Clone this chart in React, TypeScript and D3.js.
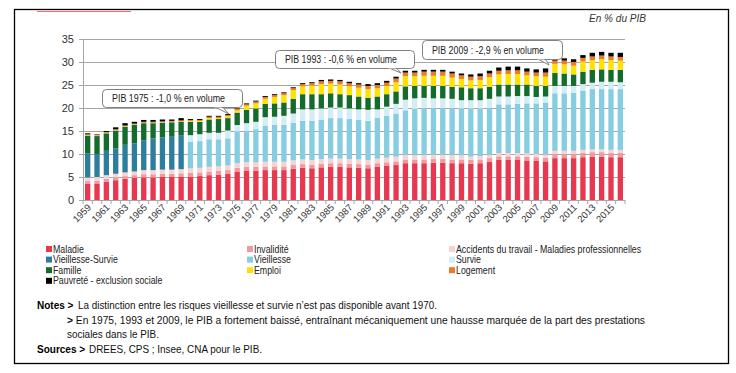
import React from "react";
import * as d3 from "d3";

const years: number[] = d3.range(1959, 2017);

const maladie = [3.5,3.6,4.0,4.3,4.6,4.8,4.9,4.9,5.0,5.0,5.1,
  5.1,5.2,5.4,5.5,5.7,6.2,6.4,6.4,6.5,6.5,
  6.5,6.8,7.0,6.9,7.1,7.2,7.2,7.1,7.0,6.9,
  7.2,7.4,7.6,8.0,8.0,8.0,8.1,8.1,8.0,8.0,
  7.9,8.0,8.3,8.7,8.7,8.7,8.6,8.5,8.4,9.1,
  9.1,9.1,9.3,9.4,9.4,9.3,9.3];
const invalidite = [0.6,0.6,0.6,0.6,0.6,0.6,0.7,0.7,0.7,0.7,0.7,
  0.8,0.8,0.8,0.8,0.8,0.8,0.8,0.8,0.8,0.8,
  0.8,0.8,0.8,0.8,0.8,0.8,0.8,0.8,0.8,0.8,
  0.8,0.8,0.8,0.8,0.8,0.8,0.8,0.8,0.8,0.8,
  0.8,0.8,0.8,0.8,0.8,0.8,0.8,0.8,0.8,1.0,
  1.0,1.0,1.0,1.0,1.0,1.0,1.0];
const accidents = [0.8,0.8,0.8,0.8,0.8,0.8,0.9,0.9,0.9,0.9,0.9,
  1.0,1.0,1.0,1.0,1.0,1.0,1.0,1.0,1.0,1.0,
  1.0,1.0,1.0,1.0,1.0,1.0,1.0,1.0,1.0,1.0,
  1.0,1.0,1.0,1.0,0.9,0.9,0.9,0.9,0.9,0.9,
  0.7,0.7,0.7,0.7,0.7,0.7,0.7,0.7,0.7,0.6,
  0.6,0.6,0.6,0.6,0.6,0.6,0.6];
const vieillesseSurvie = [5.2,5.0,5.3,5.5,6.0,6.1,6.5,6.9,7.0,7.3,7.4,
  0,0,0,0,0,0,0,0,0,0,
  0,0,0,0,0,0,0,0,0,0,
  0,0,0,0,0,0,0,0,0,0,
  0,0,0,0,0,0,0,0,0,0,
  0,0,0,0,0,0,0];
const vieillesse = [0,0,0,0,0,0,0,0,0,0,0,
  5.8,5.8,6.0,5.9,5.9,6.9,6.9,7.2,7.9,8.0,
  8.0,8.2,8.4,8.5,8.6,8.8,8.8,8.7,8.6,8.5,
  8.9,9.1,9.4,9.7,10.1,10.3,10.2,10.2,10.3,10.2,
  10.5,10.4,10.3,10.6,10.6,10.7,10.9,11.0,11.3,12.5,
  12.5,12.6,12.9,13.1,13.1,13.2,13.2];
const survie = [0,0,0,0,0,0,0,0,0,0,0,
  1.4,1.5,1.4,1.4,1.7,1.4,1.6,1.6,1.8,1.8,
  2.0,2.0,2.5,2.5,2.4,2.3,2.3,2.3,2.3,2.4,
  1.8,2.0,2.1,2.3,2.3,2.2,2.1,2.1,2.0,1.8,
  1.8,1.8,1.9,1.7,1.7,1.7,1.6,1.4,1.3,1.6,
  1.6,1.5,1.4,1.4,1.6,1.6,1.5];
const famille = [3.9,3.9,3.8,3.9,3.9,4.0,3.7,3.3,3.2,3.0,2.9,
  2.9,2.7,2.9,3.0,2.7,2.7,2.9,2.9,2.9,2.9,
  2.9,3.2,3.3,3.3,3.1,3.1,2.9,2.9,2.8,2.6,
  2.8,2.7,2.7,2.9,2.7,2.6,2.7,2.7,2.6,2.8,
  2.6,2.6,2.6,2.6,2.6,2.5,2.5,2.4,2.3,2.8,
  2.7,2.5,2.7,2.8,2.7,2.6,2.7];
const emploi = [0.1,0.1,0.1,0.1,0.1,0.1,0.1,0.1,0.1,0.1,0.1,
  0.2,0.2,0.3,0.2,0.4,0.5,0.9,1.1,1.1,1.4,
  1.6,1.9,1.7,1.9,2.2,2.1,2.1,1.9,1.9,1.9,
  1.8,1.8,2.0,2.2,2.1,2.2,2.2,2.2,2.0,1.8,
  1.7,1.8,2.1,2.2,2.3,2.3,2.0,2.1,2.0,2.0,
  2.0,1.9,2.2,2.1,2.2,2.1,2.0];
const logement = [0.2,0.2,0.2,0.2,0.2,0.2,0.2,0.2,0.2,0.2,0.2,
  0.2,0.2,0.3,0.3,0.3,0.3,0.3,0.4,0.4,0.4,
  0.4,0.4,0.5,0.5,0.6,0.6,0.7,0.7,0.7,0.7,
  0.7,0.7,0.8,0.8,0.8,0.9,0.9,0.9,0.9,0.8,
  0.8,0.8,0.8,0.8,0.8,0.8,0.8,0.8,0.9,0.7,
  0.8,0.8,0.8,0.8,0.8,0.8,0.8];
const pauvrete = [0.2,0.1,0.2,0.4,0.5,0.4,0.4,0.4,0.4,0.3,0.5,
  0.2,0.2,0.2,0.2,0.2,0.1,0.2,0.2,0.2,0.2,
  0.2,0.2,0.2,0.2,0.3,0.3,0.3,0.3,0.3,0.4,
  0.4,0.4,0.4,0.4,0.4,0.4,0.4,0.4,0.4,0.4,
  0.5,0.6,0.6,0.7,0.8,0.8,0.7,0.7,0.9,0.5,
  0.5,0.6,0.6,0.8,0.8,0.8,0.9];

const seriesNames = [
  "Maladie", "Invalidité", "Accidents du travail - Maladies professionnelles",
  "Vieillesse-Survie", "Vieillesse", "Survie",
  "Famille", "Emploi", "Logement",
  "Pauvreté - exclusion sociale",
];
const seriesValues = [maladie, invalidite, accidents, vieillesseSurvie, vieillesse, survie, famille, emploi, logement, pauvrete];
const seriesColors = ["#e63950", "#f09a9f", "#f9d3d3", "#2d7d9c", "#86cde1", "#d2edf5", "#136b2c", "#ffe200", "#ee7a22", "#000000"];

const yTicks = [0, 5, 10, 15, 20, 25, 30, 35];
const labelYears = years.filter((y) => (y - 1959) % 2 === 0);

const callouts = [
  { text: "PIB 1975 : -1,0 % en volume", x: 102, y: 89, w: 140, h: 18, tl: 113, tail: [214, 222, 229, 114] },
  { text: "PIB 1993 : -0,6 % en volume", x: 275, y: 50, w: 139, h: 18, tl: 112, tail: [388, 396, 401, 73] },
  { text: "PIB 2009 : -2,9 % en volume", x: 422, y: 40, w: 140, h: 19, tl: 112, tail: [537, 545, 549, 65] },
];

const FONT = "'Liberation Sans', Arial, sans-serif";

export default function App() {
  const left = 83, right = 625, top = 39, bottom = 200;
  const x = d3.scaleBand<number>().domain(years).range([left, right]).paddingInner(0.43).paddingOuter(0.215);
  const y = d3.scaleLinear().domain([0, 35]).range([bottom, top]);
  const rows = years.map((yr, i) => {
    const r: any = { year: yr };
    seriesNames.forEach((n, k) => (r[n] = seriesValues[k][i]));
    return r;
  });
  const stacked = d3.stack<any>().keys(seriesNames)(rows);
  const step = x.step();

  return (
    <svg width={736} height={373} style={{ position: "absolute", left: 0, top: 0 }}>
      <rect x={0} y={0} width={736} height={373} fill="#fff" />
      <rect x={14.5} y={9.5} width={714} height={354} fill="none" stroke="#000" strokeWidth={1.3} />
      <line x1={37} x2={131} y1={11.5} y2={11.5} stroke="#e8707c" strokeWidth={1} />
      <text x={646} y={22} textAnchor="end" fontFamily={FONT} fontStyle="italic" fontSize={10.5} fill="#333" textLength={57} lengthAdjust="spacingAndGlyphs">En % du PIB</text>

      {yTicks.map((t) => (
        <g key={t}>
          <line x1={left} x2={right} y1={Math.round(y(t)) + 0.5} y2={Math.round(y(t)) + 0.5} stroke="#a6a6a6" strokeWidth={1} />
          <line x1={left - 4} x2={left} y1={Math.round(y(t)) + 0.5} y2={Math.round(y(t)) + 0.5} stroke="#a6a6a6" />
          <text x={74} y={y(t) + 4} textAnchor="end" fontFamily={FONT} fontSize={11} fill="#333">{t}</text>
        </g>
      ))}
      <line x1={left + 0.5} x2={left + 0.5} y1={top} y2={bottom} stroke="#a6a6a6" />

      {stacked.map((s, k) => (
        <g key={s.key} fill={seriesColors[k]}>
          {s.map((d: any, i: number) => {
            const h = y(d[0]) - y(d[1]);
            if (h <= 0) return null;
            return <rect key={i} x={x(years[i])!} y={y(d[1])} width={x.bandwidth()} height={h} />;
          })}
        </g>
      ))}

      {years.map((yr, i) => (
        <line key={yr} x1={left + i * step} x2={left + i * step} y1={bottom} y2={bottom + 4} stroke="#a6a6a6" />
      ))}
      <line x1={right} x2={right} y1={bottom} y2={bottom + 4} stroke="#a6a6a6" />
      {labelYears.map((yr) => {
        const cx = x(yr)! + x.bandwidth() / 2 + 4;
        return (
          <text key={yr} transform={`translate(${cx},${bottom + 8}) rotate(-45)`} textAnchor="end" fontFamily={FONT} fontSize={9.5} fill="#333">{yr}</text>
        );
      })}

      {callouts.map((c, i) => (
        <g key={i}>
          <path d={`M${c.tail[0]},${c.y + c.h - 0.5} L${c.tail[2]},${c.tail[3]} L${c.tail[1]},${c.y + c.h - 0.5}`} fill="#fff" stroke="#808080" />
          <rect x={c.x + 0.5} y={c.y + 0.5} width={c.w} height={c.h} rx={4} fill="#fff" stroke="#808080" />
          <rect x={c.tail[0] + 0.5} y={c.y + c.h - 1} width={c.tail[1] - c.tail[0] - 1} height={1.4} fill="#fff" />
          <text x={c.x + 10} y={c.y + c.h / 2 + 4} fontFamily={FONT} fontSize={10.5} textLength={c.tl} lengthAdjust="spacingAndGlyphs" fill="#222">{c.text}</text>
        </g>
      ))}

      {seriesNames.map((n, k) => {
        const col = k % 3, row = Math.floor(k / 3);
        const lx = [46, 247, 449][col];
        const ly = 249 + row * 10.6;
        return (
          <g key={n}>
            <rect x={lx} y={ly - 3} width={6} height={6} fill={seriesColors[k]} />
            <text transform={`translate(${lx + 7},${ly + 3.5}) scale(0.88,1)`} fontFamily={FONT} fontSize={10} fill="#222">{n}</text>
          </g>
        );
      })}

      <text x={37} y={309} fontFamily={FONT} fontSize={10} fontWeight="bold" fill="#000">Notes &gt;</text>
      <text x={78} y={309} fontFamily={FONT} fontSize={11.5} fill="#111" textLength={359} lengthAdjust="spacingAndGlyphs">La distinction entre les risques vieillesse et survie n’est pas disponible avant 1970.</text>
      <text x={67} y={324} fontFamily={FONT} fontSize={11.5} fill="#111" textLength={578} lengthAdjust="spacingAndGlyphs">
        <tspan fontWeight="bold">&gt;</tspan> En 1975, 1993 et 2009, le PIB a fortement baissé, entraînant mécaniquement une hausse marquée de la part des prestations
      </text>
      <text x={67} y={338} fontFamily={FONT} fontSize={11.5} fill="#111" textLength={92} lengthAdjust="spacingAndGlyphs">sociales dans le PIB.</text>
      <text x={37} y={353} fontFamily={FONT} fontSize={10} fontWeight="bold" fill="#000">Sources &gt;</text>
      <text x={89} y={353} fontFamily={FONT} fontSize={11.5} fill="#111" textLength={173} lengthAdjust="spacingAndGlyphs">DREES, CPS ; Insee, CNA pour le PIB.</text>
    </svg>
  );
}
